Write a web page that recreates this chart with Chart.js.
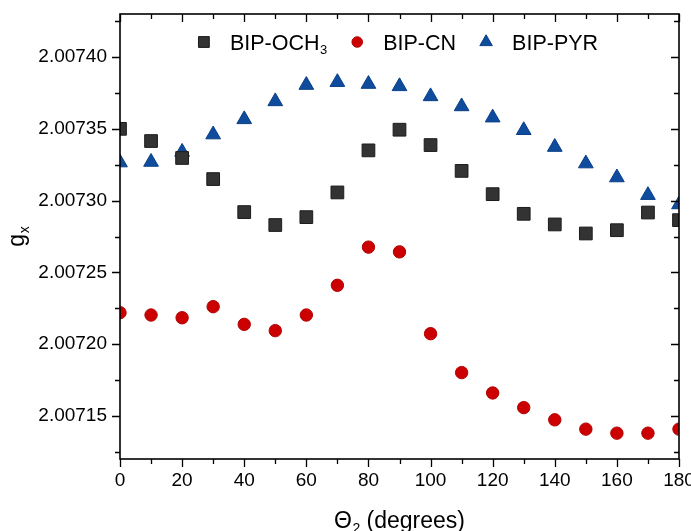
<!DOCTYPE html>
<html>
<head>
<meta charset="utf-8">
<script src="https://cdn.jsdelivr.net/npm/chart.js@4/dist/chart.umd.min.js"></script>
<style>
  html, body { margin: 0; padding: 0; background: #fff; }
  #wrap { width: 691px; height: 531px; }
</style>
</head>
<body>
<div id="wrap"><canvas id="gxChart"></canvas></div>
<script>
// angles (degrees)
const angles = [0, 10, 20, 30, 40, 50, 60, 70, 80, 90, 100, 110, 120, 130, 140, 150, 160, 170, 180];

// g_x values
const och3 = [2.0073500, 2.0073415, 2.0073297, 2.0073150, 2.0072920, 2.0072830, 2.0072885, 2.0073057, 2.0073350, 2.0073494,
              2.0073387, 2.0073207, 2.0073045, 2.0072908, 2.0072834, 2.0072771, 2.0072794, 2.0072917, 2.0072864];
const cn   = [2.0072219, 2.0072203, 2.0072184, 2.0072261, 2.0072138, 2.0072094, 2.0072203, 2.0072410, 2.0072676, 2.0072643,
              2.0072073, 2.0071802, 2.0071660, 2.0071558, 2.0071473, 2.0071408, 2.0071380, 2.0071380, 2.0071408];
const pyr  = [2.0073265, 2.0073269, 2.0073339, 2.0073460, 2.0073566, 2.0073691, 2.0073805, 2.0073825, 2.0073812, 2.0073796,
              2.0073726, 2.0073656, 2.0073578, 2.0073490, 2.0073373, 2.0073258, 2.0073161, 2.0073038, 2.0072973];

// tick labels
const xTicks = [0, 20, 40, 60, 80, 100, 120, 140, 160, 180];
const yTicks = [2.00715, 2.00720, 2.00725, 2.00730, 2.00735, 2.00740];
const yMinorTicks = [2.007125, 2.007175, 2.007225, 2.007275, 2.007325, 2.007375, 2.007425];
const xMinorTicks = [10, 30, 50, 70, 90, 110, 130, 150, 170];

const FONT = '"Liberation Sans", Arial, sans-serif';

const series = [
    { label: 'BIP-OCH', sub: '3', values: och3, style: 'rect', color: '#333333', edge: '#1c1c1c', radius: 9 },
    { label: 'BIP-CN', sub: '', values: cn, style: 'circle', color: '#cc0000', edge: '#b00000', radius: 6.2 },
    { label: 'BIP-PYR', sub: '', values: pyr, style: 'triangle', color: '#0f4c9e', edge: '#0a3f86', radius: 8.5 }
];

function toPoints(values) {
    return angles.map((a, i) => ({ x: a, y: values[i] }));
}

// text with a subscript part, drawn left aligned at (x, y) baseline
function drawSubText(ctx, main, sub, x, y, size, rest) {
    ctx.font = `${size}px ${FONT}`;
    ctx.fillText(main, x, y);
    let w = ctx.measureText(main).width;
    if (sub) {
        ctx.font = `${Math.round(size * 0.62)}px ${FONT}`;
        ctx.fillText(sub, x + w + 0.5, y + size * 0.22);
        w += ctx.measureText(sub).width + 0.5;
    }
    if (rest) {
        ctx.font = `${size}px ${FONT}`;
        ctx.fillText(rest, x + w, y);
        w += ctx.measureText(rest).width;
    }
    return w;
}

function subTextWidth(ctx, main, sub, size, rest) {
    ctx.font = `${size}px ${FONT}`;
    let w = ctx.measureText(main).width;
    if (rest) w += ctx.measureText(rest).width;
    if (sub) {
        ctx.font = `${Math.round(size * 0.62)}px ${FONT}`;
        w += ctx.measureText(sub).width + 0.5;
    }
    return w;
}

function drawMarker(ctx, style, x, y, r) {
    ctx.beginPath();
    if (style === 'rect') {
        const s = Math.SQRT1_2 * r;
        ctx.rect(x - s, y - s, 2 * s, 2 * s);
    } else if (style === 'circle') {
        ctx.arc(x, y, r, 0, Math.PI * 2);
    } else {
        ctx.moveTo(x, y - r);
        ctx.lineTo(x + r * 0.866, y + r / 2);
        ctx.lineTo(x - r * 0.866, y + r / 2);
        ctx.closePath();
    }
    ctx.fill();
    ctx.stroke();
}

// frame, tick marks, legend and axis titles
const decorations = {
    id: 'decorations',
    afterDatasetsDraw(chart) {
        const { ctx, chartArea: a, scales: { x, y } } = chart;
        ctx.save();

        // ticks
        ctx.strokeStyle = '#000';
        ctx.lineWidth = 1.3;
        ctx.beginPath();
        const xMark = (v, len) => {
            const px = Math.round(x.getPixelForValue(v)) + 0.5;
            ctx.moveTo(px, a.bottom); ctx.lineTo(px, a.bottom + len);
            ctx.moveTo(px, a.top); ctx.lineTo(px, a.top + len);
        };
        const yMark = (v, len) => {
            const py = Math.round(y.getPixelForValue(v)) + 0.5;
            ctx.moveTo(a.left, py); ctx.lineTo(a.left - len, py);
            ctx.moveTo(a.right, py); ctx.lineTo(a.right - len, py);
        };
        xTicks.forEach(v => xMark(v, 8));
        xMinorTicks.forEach(v => xMark(v, 5));
        yTicks.forEach(v => yMark(v, 8));
        yMinorTicks.forEach(v => yMark(v, 5));
        ctx.stroke();

        // frame
        ctx.lineWidth = 1.6;
        ctx.strokeRect(a.left, a.top, a.right - a.left, a.bottom - a.top);

        // legend inside the plot
        const lsize = 21.5;
        const textGap = 29, itemGap = 27;
        let total = 0;
        series.forEach((s, i) => {
            total += textGap + subTextWidth(ctx, s.label, s.sub, lsize) + (i < series.length - 1 ? itemGap : 0);
        });
        let lx = (a.left + a.right) / 2 - 3 - total / 2 + 6;
        const ly = 42;
        ctx.textBaseline = 'alphabetic';
        ctx.textAlign = 'left';
        series.forEach(s => {
            ctx.fillStyle = s.color;
            ctx.strokeStyle = s.edge;
            ctx.lineWidth = 1;
            drawMarker(ctx, s.style, lx, ly, s.radius * 0.85);
            ctx.fillStyle = '#000';
            const w = drawSubText(ctx, s.label, s.sub, lx + textGap - 3, ly + 7.5, lsize);
            lx += textGap + w + itemGap;
        });

        // axis titles
        ctx.fillStyle = '#000';
        const tsize = 23;
        const xw = subTextWidth(ctx, '\u0398', '2', tsize, ' (degrees)');
        drawSubText(ctx, '\u0398', '2', (a.left + a.right) / 2 - xw / 2, 528, tsize, ' (degrees)');

        ctx.translate(24, (a.top + a.bottom) / 2);
        ctx.rotate(-Math.PI / 2);
        const yw = subTextWidth(ctx, 'g', 'x', tsize);
        drawSubText(ctx, 'g', 'x', -yw / 2, 0, tsize);

        ctx.restore();
    }
};

const chart = new Chart(document.getElementById('gxChart'), {
    type: 'scatter',
    data: {
        datasets: series.map(s => ({
            label: s.label + s.sub,
            data: toPoints(s.values),
            pointStyle: s.style,
            pointRadius: s.radius,
            pointHoverRadius: s.radius,
            backgroundColor: s.color,
            borderColor: s.edge,
            borderWidth: 1,
            clip: 0
        }))
    },
    options: {
        responsive: true,
        maintainAspectRatio: false,
        animation: false,
        layout: { padding: { top: 14, right: 12, left: 0, bottom: 0 } },
        plugins: {
            legend: { display: false },
            tooltip: { enabled: false }
        },
        scales: {
            x: {
                type: 'linear',
                min: 0,
                max: 180,
                grid: { display: false, drawTicks: false },
                border: { display: false },
                afterBuildTicks: scale => { scale.ticks = xTicks.map(v => ({ value: v })); },
                afterFit: scale => {
                    scale.height = 72;
                    scale.paddingLeft = 0;
                    scale.paddingRight = 0;
                },
                ticks: {
                    color: '#000',
                    padding: 10,
                    maxRotation: 0,
                    font: { family: FONT, size: 19 }
                }
            },
            y: {
                type: 'linear',
                min: 2.00712,
                max: 2.00743,
                grid: { display: false, drawTicks: false },
                border: { display: false },
                afterBuildTicks: scale => { scale.ticks = yTicks.map(v => ({ value: v })); },
                afterFit: scale => {
                    scale.width = 120;
                    scale.paddingTop = 0;
                    scale.paddingBottom = 0;
                },
                ticks: {
                    color: '#000',
                    padding: 13,
                    font: { family: FONT, size: 19 },
                    callback: v => v.toFixed(5)
                }
            }
        }
    },
    plugins: [decorations]
});
</script>
</body>
</html>
